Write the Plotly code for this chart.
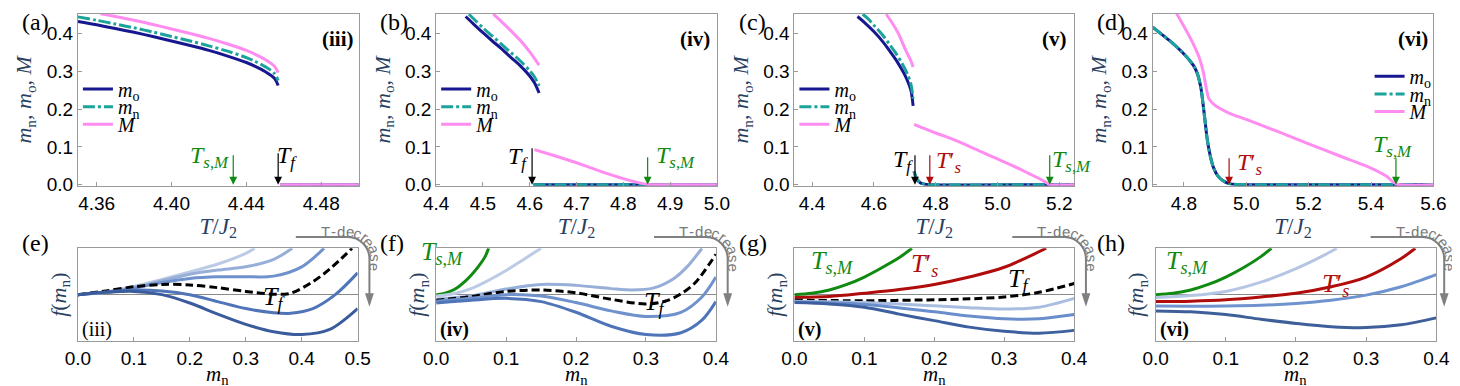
import math
import plotly.graph_objects as go

W, H = 1460, 386

# ---------------- data: panel (a) ----------------
a_T_o = [4.35, 4.36, 4.37, 4.38, 4.39, 4.40, 4.41, 4.42, 4.43, 4.44, 4.445, 4.45, 4.455, 4.457]
a_m_o = [0.433, 0.424, 0.414, 0.404, 0.393, 0.381, 0.369, 0.356, 0.341, 0.324, 0.313, 0.300, 0.282, 0.263]
a_m_n = [0.445, 0.436, 0.426, 0.416, 0.405, 0.393, 0.381, 0.368, 0.354, 0.337, 0.326, 0.313, 0.295, 0.276]
a_T_M = [4.362, 4.37, 4.38, 4.39, 4.40, 4.41, 4.42, 4.43, 4.44, 4.445, 4.45, 4.455, 4.457]
a_M = [0.453, 0.446, 0.436, 0.425, 0.413, 0.401, 0.388, 0.373, 0.356, 0.345, 0.332, 0.314, 0.297]
a_T_low = [4.458, 4.50]
a_m_low = [0.0, 0.0]
a_M_low = [0.0, 0.0]
a_Tf, a_TsM = 4.457, 4.433

# ---------------- data: panel (b) ----------------
b_T_o = [4.463, 4.48, 4.50, 4.52, 4.54, 4.56, 4.58, 4.60, 4.61, 4.62]
b_m_o = [0.446, 0.426, 0.403, 0.381, 0.360, 0.337, 0.315, 0.288, 0.270, 0.243]
b_T_n = [4.47, 4.48, 4.50, 4.52, 4.54, 4.56, 4.58, 4.60, 4.61, 4.62]
b_m_n = [0.452, 0.440, 0.416, 0.394, 0.372, 0.350, 0.328, 0.302, 0.286, 0.262]
b_T_M = [4.522, 4.54, 4.56, 4.58, 4.60, 4.61, 4.62]
b_M = [0.452, 0.432, 0.408, 0.382, 0.352, 0.335, 0.317]
b_T_low = [4.608, 5.0]
b_m_low = [0.0, 0.0]
b_T_Mlow = [4.61, 4.65, 4.70, 4.75, 4.80, 4.83, 4.85, 4.86, 5.0]
b_M_low = [0.093, 0.078, 0.058, 0.036, 0.016, 0.006, 0.001, 0.0, 0.0]
b_Tf, b_TsM = 4.605, 4.852

# ---------------- data: panel (c) ----------------
c_T_o = [4.547, 4.57, 4.60, 4.63, 4.65, 4.67, 4.69, 4.70, 4.71, 4.72, 4.727]
c_m_o = [0.446, 0.430, 0.406, 0.378, 0.356, 0.333, 0.306, 0.291, 0.273, 0.250, 0.209]
c_T_n = [4.564, 4.58, 4.60, 4.63, 4.65, 4.67, 4.69, 4.70, 4.71, 4.72, 4.727]
c_m_n = [0.452, 0.441, 0.423, 0.395, 0.373, 0.350, 0.323, 0.308, 0.290, 0.266, 0.228]
c_T_M = [4.64, 4.66, 4.68, 4.70, 4.71, 4.72, 4.727]
c_M = [0.452, 0.428, 0.400, 0.362, 0.345, 0.328, 0.312]
c_T_low = [4.73, 4.735, 4.74, 4.75, 4.76, 4.78, 5.248]
c_m_low = [0.035, 0.022, 0.013, 0.005, 0.002, 0.0, 0.0]
c_T_Mlow = [4.73, 4.80, 4.85, 4.90, 4.95, 5.00, 5.05, 5.10, 5.14, 5.17, 5.248]
c_M_low = [0.160, 0.137, 0.122, 0.105, 0.086, 0.068, 0.050, 0.030, 0.014, 0.0, 0.0]
c_Tf, c_Tsp, c_TsM = 4.733, 4.781, 5.169

# ---------------- data: panel (d) ----------------
d_T = [4.70, 4.73, 4.76, 4.79, 4.82, 4.835, 4.845, 4.855, 4.865, 4.875, 4.885, 4.895, 4.91, 4.93, 4.95, 5.0, 5.6]
d_m = [0.418, 0.398, 0.378, 0.355, 0.328, 0.310, 0.290, 0.255, 0.190, 0.120, 0.075, 0.045, 0.022, 0.008, 0.002, 0.0, 0.0]
d_T_M = [4.777, 4.80, 4.82, 4.835, 4.85, 4.862, 4.872, 4.88, 4.897, 4.92, 4.95, 5.0, 5.1, 5.2, 5.3, 5.4, 5.45, 5.48, 5.6]
d_M = [0.453, 0.420, 0.390, 0.365, 0.335, 0.300, 0.255, 0.228, 0.212, 0.200, 0.188, 0.173, 0.141, 0.108, 0.076, 0.044, 0.022, 0.002, 0.0]
d_Tsp, d_TsM = 4.945, 5.48

# ---------------- data: free energy panels (e)-(h) ----------------
e_x1 = [0, 0.05, 0.1, 0.15, 0.2, 0.25, 0.3, 0.316]
e_f1 = [0, 0.06, 0.18, 0.33, 0.49, 0.66, 0.89, 1.0]
e_x2 = [0, 0.05, 0.1, 0.15, 0.2, 0.25, 0.3, 0.35, 0.383]
e_f2 = [0, 0.05, 0.15, 0.30, 0.44, 0.53, 0.60, 0.76, 1.0]
e_x3 = [0, 0.05, 0.1, 0.15, 0.2, 0.25, 0.3, 0.35, 0.4, 0.44]
e_f3 = [0, 0.05, 0.14, 0.26, 0.35, 0.385, 0.385, 0.40, 0.60, 1.0]
e_xf = [0, 0.05, 0.1, 0.15, 0.2, 0.25, 0.3, 0.35, 0.38, 0.42, 0.45, 0.49]
e_ff = [0, 0.08, 0.17, 0.22, 0.21, 0.15, 0.07, 0.01, 0.03, 0.28, 0.55, 1.0]
e_x4 = [0, 0.05, 0.1, 0.15, 0.2, 0.25, 0.3, 0.35, 0.38, 0.42, 0.46, 0.5]
e_f4 = [0, 0.06, 0.10, 0.08, 0.0, -0.15, -0.30, -0.39, -0.40, -0.30, 0.0, 0.47]
e_x5 = [0, 0.05, 0.1, 0.15, 0.2, 0.25, 0.3, 0.35, 0.4, 0.45, 0.5]
e_f5 = [0, 0.05, 0.07, 0.0, -0.18, -0.42, -0.64, -0.80, -0.86, -0.75, -0.30]

f_xg = [0, 0.01, 0.02, 0.03, 0.04, 0.05, 0.06, 0.07, 0.075]
f_fg = [0, 0.02, 0.07, 0.15, 0.27, 0.42, 0.60, 0.82, 1.0]
f_x1 = [0, 0.025, 0.05, 0.075, 0.1, 0.125, 0.15]
f_f1 = [-0.03, 0.02, 0.13, 0.31, 0.52, 0.76, 1.0]
f_x2 = [0, 0.05, 0.1, 0.15, 0.2, 0.25, 0.28, 0.31, 0.34, 0.36, 0.38]
f_f2 = [-0.10, -0.03, 0.12, 0.22, 0.20, 0.13, 0.10, 0.14, 0.35, 0.62, 1.0]
f_xf = [0, 0.05, 0.1, 0.15, 0.2, 0.25, 0.3, 0.33, 0.35, 0.37, 0.4]
f_ff = [-0.12, -0.04, 0.07, 0.10, 0.04, -0.10, -0.20, -0.13, 0.02, 0.25, 0.87]
f_x3 = [0, 0.05, 0.1, 0.15, 0.2, 0.25, 0.3, 0.35, 0.38, 0.4]
f_f3 = [-0.14, -0.08, 0.0, -0.03, -0.17, -0.35, -0.47, -0.38, -0.05, 0.38]
f_x4 = [0, 0.05, 0.1, 0.15, 0.2, 0.25, 0.3, 0.35, 0.38, 0.4]
f_f4 = [-0.18, -0.12, -0.08, -0.15, -0.38, -0.68, -0.86, -0.82, -0.55, -0.15]

g_xg = [0, 0.025, 0.05, 0.075, 0.1, 0.125, 0.15, 0.168]
g_fg = [0, 0.03, 0.10, 0.22, 0.38, 0.58, 0.80, 1.0]
g_xr = [0, 0.05, 0.1, 0.15, 0.2, 0.25, 0.3, 0.36]
g_fr = [-0.06, -0.04, 0.03, 0.11, 0.22, 0.38, 0.59, 1.0]
g_xf = [0, 0.1, 0.2, 0.25, 0.3, 0.35, 0.4]
g_ff = [-0.12, -0.13, -0.11, -0.09, -0.05, 0.05, 0.24]
g_x1 = [0, 0.1, 0.2, 0.25, 0.3, 0.35, 0.4]
g_f1 = [-0.14, -0.17, -0.24, -0.28, -0.31, -0.27, -0.08]
g_x2 = [0, 0.1, 0.2, 0.25, 0.3, 0.35, 0.4]
g_f2 = [-0.16, -0.21, -0.37, -0.46, -0.52, -0.52, -0.43]
g_x3 = [0, 0.05, 0.1, 0.15, 0.2, 0.25, 0.3, 0.35, 0.4]
g_f3 = [-0.17, -0.20, -0.27, -0.42, -0.56, -0.70, -0.79, -0.83, -0.77]

h_xg = [0, 0.025, 0.05, 0.075, 0.1, 0.125, 0.15, 0.165]
h_fg = [0, 0.03, 0.10, 0.22, 0.38, 0.58, 0.82, 1.0]
h_x1 = [0, 0.05, 0.1, 0.15, 0.2, 0.25, 0.258]
h_f1 = [-0.06, -0.02, 0.07, 0.27, 0.56, 0.93, 1.0]
h_xr = [0, 0.05, 0.1, 0.15, 0.2, 0.25, 0.3, 0.35, 0.37]
h_fr = [-0.15, -0.14, -0.11, -0.05, 0.03, 0.17, 0.38, 0.78, 1.0]
h_x2 = [0, 0.05, 0.1, 0.15, 0.2, 0.25, 0.3, 0.35, 0.4]
h_f2 = [-0.245, -0.25, -0.245, -0.23, -0.19, -0.12, -0.01, 0.17, 0.43]
h_x3 = [0, 0.05, 0.1, 0.15, 0.2, 0.25, 0.3, 0.35, 0.4]
h_f3 = [-0.35, -0.37, -0.43, -0.53, -0.62, -0.69, -0.71, -0.65, -0.50]

# ---------------- styling ----------------
NAVY, TEAL, PINK = "#17178f", "#1ba39c", "#ff8cf0"
GREEN, RED, BLACK = "#118a11", "#b00c0c", "#000000"
B1, B2, B3, B4, B5 = "#bccbe5", "#97afd8", "#6f91cc", "#4f74b8", "#3a5c9c"
SERIF = "Liberation Serif"
SANS = "Liberation Sans"
FRAME = "#9a9a9a"

# panel pixel boxes (left, top, right, bottom)
boxes = [
    (58, 6, 344, 182), (423, 6, 709, 182), (788, 6, 1073, 182), (1153, 6, 1439, 182),
    (58, 246, 343, 341), (423, 246, 708, 341), (788, 246, 1073, 341), (1156, 246, 1442, 341),
]
xranges = [[4.35, 4.50], [4.4, 5.0], [4.343, 5.248], [4.70, 5.60], [0, 0.5], [0, 0.4], [0, 0.4], [0, 0.4]]


def px(x):
    return x / W


def py(y):
    return 1 - y / H


fig = go.Figure()


def sfx(n):
    return "" if n == 1 else str(n)


def add_line(n, x, y, color, width=3, dash=None, name=None, legend=None, smooth=0.9):
    fig.add_trace(go.Scatter(
        x=x, y=y, mode="lines", xaxis="x" + sfx(n), yaxis="y" + sfx(n),
        line=dict(color=color, width=width, dash=dash, shape="spline", smoothing=smooth),
        name=name or "", showlegend=legend is not None,
        legend=legend if legend else "legend", hoverinfo="skip"))


MN_DASH = "12px,3px,3px,3px"
LBL_O = "<i>m</i><sub>o</sub>"
LBL_N = "<i>m</i><sub>n</sub>"
LBL_M = "<i>M</i>"

# panel (a)
add_line(1, a_T_o, a_m_o, NAVY, name=LBL_O, legend="legend")
add_line(1, a_T_o, a_m_n, TEAL, dash=MN_DASH, name=LBL_N, legend="legend2")
add_line(1, a_T_M, a_M, PINK, name=LBL_M, legend="legend3")
add_line(1, a_T_low, a_m_low, NAVY)
add_line(1, a_T_low, a_m_low, TEAL, dash=MN_DASH)
add_line(1, a_T_low, a_M_low, PINK)
# panel (b)
add_line(2, b_T_o, b_m_o, NAVY, name=LBL_O, legend="legend4")
add_line(2, b_T_n, b_m_n, TEAL, dash=MN_DASH, name=LBL_N, legend="legend5")
add_line(2, b_T_M, b_M, PINK, name=LBL_M, legend="legend6")
add_line(2, b_T_low, b_m_low, NAVY)
add_line(2, b_T_low, b_m_low, TEAL, dash=MN_DASH)
add_line(2, b_T_Mlow, b_M_low, PINK, smooth=0.6)
# panel (c)
add_line(3, c_T_o, c_m_o, NAVY, name=LBL_O, legend="legend7")
add_line(3, c_T_n, c_m_n, TEAL, dash=MN_DASH, name=LBL_N, legend="legend8")
add_line(3, c_T_M, c_M, PINK, name=LBL_M, legend="legend9")
add_line(3, c_T_low, c_m_low, NAVY, smooth=0.5)
add_line(3, c_T_low, c_m_low, TEAL, dash=MN_DASH, smooth=0.5)
add_line(3, c_T_Mlow, c_M_low, PINK, smooth=0.6)
# panel (d)
add_line(4, d_T, d_m, NAVY, name=LBL_O, legend="legend10", smooth=0.7)
add_line(4, d_T, d_m, TEAL, dash=MN_DASH, name=LBL_N, legend="legend11", smooth=0.7)
add_line(4, d_T_M, d_M, PINK, name=LBL_M, legend="legend12", smooth=0.7)

DASH = "8px,4px"
# panel (e)
for xx, yy, cc in [(e_x1, e_f1, B1), (e_x2, e_f2, B2), (e_x3, e_f3, B3)]:
    add_line(5, xx, yy, cc)
add_line(5, e_xf, e_ff, BLACK, dash=DASH)
add_line(5, e_x4, e_f4, B4)
add_line(5, e_x5, e_f5, B5)
# panel (f)
add_line(6, f_xg, f_fg, GREEN)
add_line(6, f_x1, f_f1, B1)
add_line(6, f_x2, f_f2, B2)
add_line(6, f_xf, f_ff, BLACK, dash=DASH)
add_line(6, f_x3, f_f3, B3)
add_line(6, f_x4, f_f4, B4)
# panel (g)
add_line(7, g_xg, g_fg, GREEN)
add_line(7, g_xr, g_fr, RED)
add_line(7, g_xf, g_ff, BLACK, dash=DASH)
add_line(7, g_x1, g_f1, "#a8bde0")
add_line(7, g_x2, g_f2, "#6a8ecb")
add_line(7, g_x3, g_f3, "#3d5f9f")
# panel (h)
add_line(8, h_xg, h_fg, GREEN)
add_line(8, h_x1, h_f1, "#b5c6e4")
add_line(8, h_xr, h_fr, RED)
add_line(8, h_x2, h_f2, "#6f93cf")
add_line(8, h_x3, h_f3, "#3e5f99")

# ---------------- axes ----------------
layout = dict(
    width=W, height=H, margin=dict(l=0, r=0, t=0, b=0),
    paper_bgcolor="white", plot_bgcolor="white", showlegend=True,
)
tickfont = dict(family=SANS, size=19, color="black")
for i, (l, t, r, b) in enumerate(boxes):
    n = i + 1
    top = i < 4
    xa = dict(
        domain=[px(l), px(r)], range=xranges[i], anchor="y" + sfx(n),
        showline=True, mirror=True, linecolor=FRAME, linewidth=1,
        showgrid=False, zeroline=False, ticks="inside", ticklen=4, tickcolor=FRAME,
        tickfont=tickfont,
    )
    ya = dict(
        domain=[py(b), py(t)], anchor="x" + sfx(n),
        showline=True, mirror=True, linecolor=FRAME, linewidth=1, showgrid=False,
    )
    if top:
        xa.update(title=dict(text="<i>T</i>/<i>J</i><sub>2</sub>", font=dict(family=SERIF, size=23), standoff=0))
        if i == 0:
            xa.update(tick0=4.36, dtick=0.04, tickformat=".2f")
        else:
            xa.update(tick0=4.4, dtick=0.1 if i == 1 else 0.2, tickformat=".1f")
        ya.update(range=[-0.003, 0.453], tick0=0, dtick=0.1, tickformat=".1f",
                  ticks="inside", ticklen=4, tickcolor=FRAME, tickfont=tickfont, zeroline=False,
                  title=dict(text="<i>m</i><sub>n</sub>, <i>m</i><sub>o</sub>, <i>M</i>",
                             font=dict(family=SERIF, size=22), standoff=8))
    else:
        # the m_n title of the lower row is written as an annotation (see below) to sit higher
        xa.update(tick0=0, dtick=0.1, tickformat=".1f")
        ya.update(range=[-1, 1], showticklabels=False, ticks="",
                  zeroline=True, zerolinecolor="#8a8a8a", zerolinewidth=1,
                  title=dict(text="<i>f</i>(<i>m</i><sub>n</sub>)", font=dict(family=SERIF, size=22), standoff=4))
    layout["xaxis" + sfx(n)] = xa
    layout["yaxis" + sfx(n)] = ya

# ---------------- legends (one per entry, to control row spacing) ----------------
leg_rows = {
    1: (58, [83, 101, 119]), 2: (423, [83, 101, 119]), 3: (788, [83, 101, 119]), 4: (1374, [70, 88, 106]),
}
k = 1
for p in [1, 2, 3, 4]:
    lx, rows = leg_rows[p]
    for ry in rows:
        key = "legend" + sfx(k)
        layout[key] = dict(x=px(lx), y=py(ry), xanchor="left", yanchor="middle",
                           bgcolor="rgba(0,0,0,0)", borderwidth=0, itemwidth=30,
                           font=dict(family=SERIF, size=20, color="black"))
        k += 1

fig.update_layout(**layout)

# ---------------- annotations ----------------
ann = []


def label(x, y, text, color="black", size=24, xanchor="left", bold=False, yanchor="middle"):
    if bold:
        text = "<b>" + text + "</b>"
    ann.append(dict(x=px(x), y=py(y), xref="paper", yref="paper", text=text, showarrow=False,
                    xanchor=xanchor, yanchor=yanchor, font=dict(family=SERIF, size=size, color=color)))


def arrow(n, x, color, length):
    ann.append(dict(x=x, y=0.0, xref="x" + sfx(n), yref="y" + sfx(n), text="", showarrow=True,
                    ax=0, ay=-length, axref="pixel", ayref="pixel", arrowhead=2, arrowsize=1.3,
                    arrowwidth=1.2, arrowcolor=color))


TF = "<i>T</i><sub><i>f</i></sub>"
TSM = "<i>T</i><sub><i>s</i>,<i>M</i></sub>"
TSP = "<i>T</i>′<sub><i>s</i></sub>"

# lower-row x-axis titles
for (l, t, r, b) in boxes[4:]:
    label((l + r) / 2, 376, "<i>m</i><sub>n</sub>", size=21, xanchor="center")

# top arrows + labels
arrow(1, a_Tf, BLACK, 33); arrow(1, a_TsM, GREEN, 31)
label(259, 153, TF); label(214, 153, TSM, GREEN, xanchor="right")
arrow(2, b_Tf, BLACK, 38); arrow(2, b_TsM, GREEN, 29)
label(519, 154, TF, xanchor="right"); label(645, 153, TSM, GREEN)
arrow(3, c_Tf, BLACK, 31); arrow(3, c_Tsp, RED, 31); arrow(3, c_TsM, GREEN, 31)
label(911, 157, TF, xanchor="right"); label(930, 158, TSP, RED); label(1048, 157, TSM, GREEN)
arrow(4, d_Tsp, RED, 28); arrow(4, d_TsM, GREEN, 28)
label(1237, 160, TSP, RED); label(1375, 141, TSM, GREEN)

# roman numerals
for x, t in [(341, "(iii)"), (704, "(iv)"), (1068, "(v)"), (1436, "(vi)")]:
    label(x, 32, t, size=21, xanchor="right", bold=True)
label(60, 329, "(iii)", size=20)
label(425, 329, "(iv)", size=20, bold=True)
label(790, 329, "(v)", size=20, bold=True)
label(1158, 329, "(vi)", size=20, bold=True)

# panel letters
for i, t in enumerate(["(a)", "(b)", "(c)", "(d)"]):
    label(365 * i - 1, 14, t, size=24)
for i, t in enumerate(["(e)", "(f)", "(g)", "(h)"]):
    label(365 * i - 1, 241, t, size=24)

# labels inside free-energy panels
label(245, 297, TF, size=26)
label(406, 251, TSM, GREEN, size=26); label(633, 302, TF, size=26)
label(803, 260, TSM, GREEN, size=26); label(905, 263, TSP, RED, size=26); label(1004, 278, TF, size=26)
label(1165, 260, TSM, GREEN, size=26); label(1323, 284, TSP, RED, size=26)

# "T-decrease" curved arrows
shapes = []
widths = {"T": .611, "-": .333, "d": .556, "e": .556, "c": .5, "r": .333, "a": .556, "s": .5}
FS = 15
for col in range(4):
    X0 = 365 * col
    y0, cx, cy, r = 234.5, X0 + 333, 257.0, 22.0
    x2 = cx + r
    kk = 0.5523 * r
    path = (f"M{px(X0 + 280)},{py(y0)} L{px(cx)},{py(y0)} "
            f"C{px(cx + kk)},{py(y0)} {px(x2)},{py(cy - kk)} {px(x2)},{py(cy)} "
            f"L{px(x2)},{py(293)}")
    shapes.append(dict(type="path", xref="paper", yref="paper", path=path,
                       line=dict(color="#808080", width=2)))
    head = f"M{px(x2 - 4.5)},{py(292)} L{px(x2 + 4.5)},{py(292)} L{px(x2)},{py(306)} Z"
    shapes.append(dict(type="path", xref="paper", yref="paper", path=head,
                       fillcolor="#808080", line=dict(width=0)))
    # letters along an offset path
    tr = 28.0
    ty = cy - tr
    s_start = X0 + 305
    hor_len = cx - s_start
    arc_len = math.pi / 2 * tr
    s = 0.0
    for ch in "T-decrease":
        w = widths[ch] * FS * 1.12
        sc = s + w / 2
        if sc <= hor_len:
            lx, ly, ang = s_start + sc, ty, 0
        elif sc <= hor_len + arc_len:
            phi = (sc - hor_len) / tr
            lx, ly, ang = cx + tr * math.sin(phi), cy - tr * math.cos(phi), math.degrees(phi)
        else:
            lx, ly, ang = cx + tr, cy + (sc - hor_len - arc_len), 90
        ann.append(dict(x=px(lx), y=py(ly), xref="paper", yref="paper", text=ch, showarrow=False,
                        xanchor="center", yanchor="middle", textangle=ang,
                        font=dict(family=SANS, size=FS, color="#7a7a7a")))
        s += w

fig.update_layout(annotations=ann, shapes=shapes)
fig.write_html("out.html")
